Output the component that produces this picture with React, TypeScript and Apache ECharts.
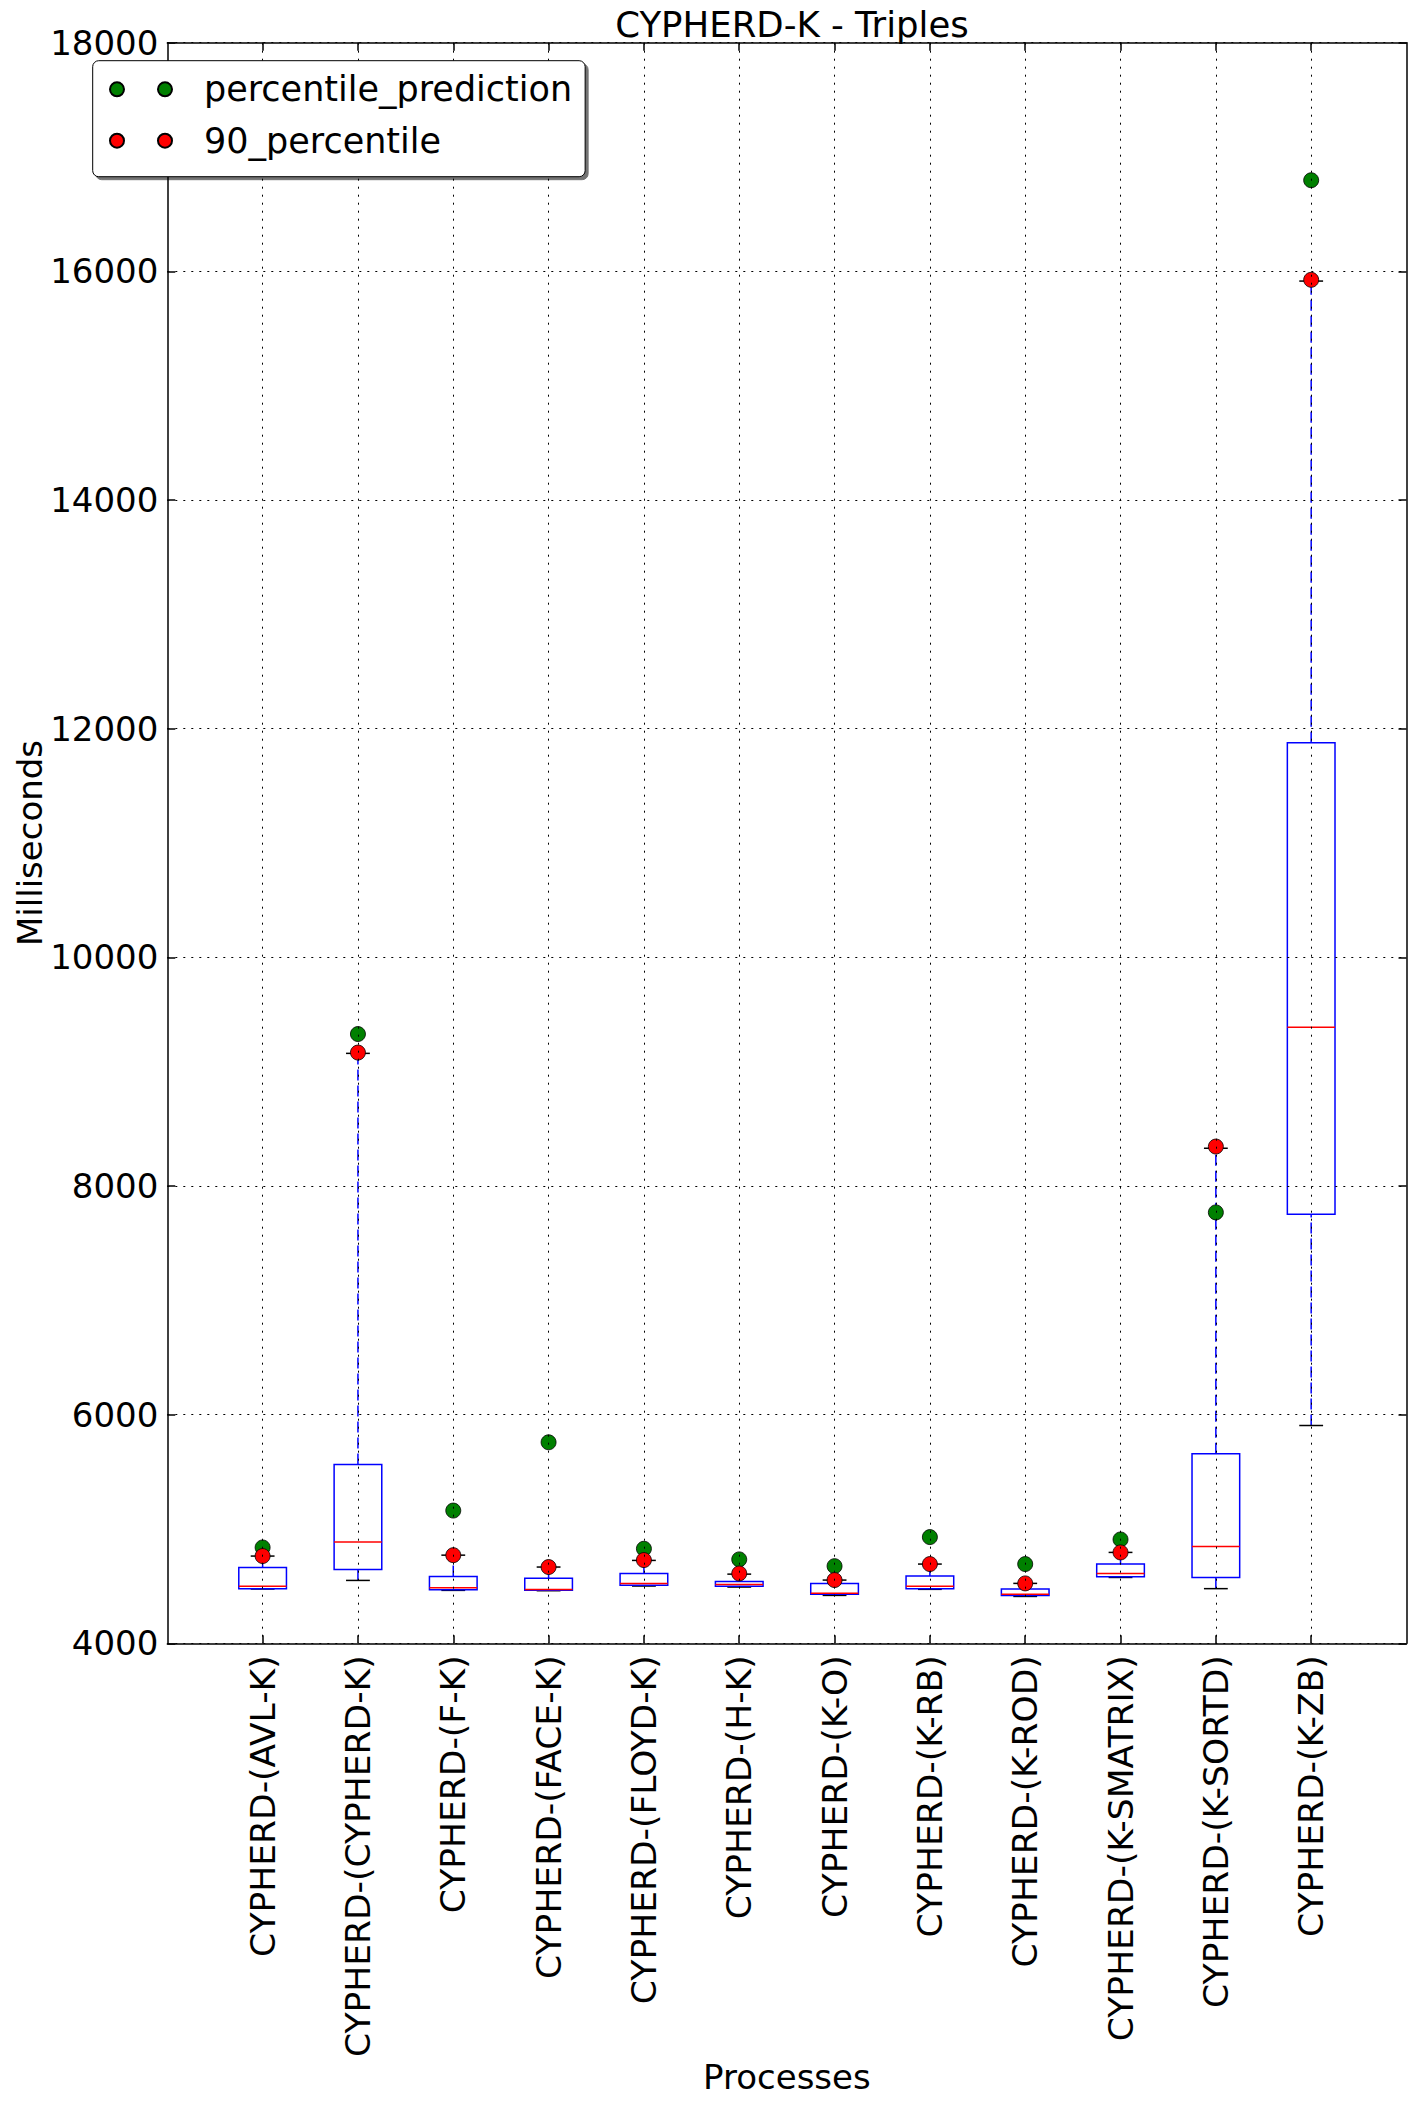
import React, { useEffect, useRef } from "react";
import * as echarts from "echarts";

const categories = [
  "CYPHERD-(AVL-K)",
  "CYPHERD-(CYPHERD-K)",
  "CYPHERD-(F-K)",
  "CYPHERD-(FACE-K)",
  "CYPHERD-(FLOYD-K)",
  "CYPHERD-(H-K)",
  "CYPHERD-(K-O)",
  "CYPHERD-(K-RB)",
  "CYPHERD-(K-ROD)",
  "CYPHERD-(K-SMATRIX)",
  "CYPHERD-(K-SORTD)",
  "CYPHERD-(K-ZB)",
];

const lowWhisker = [4475, 4550, 4463, 4460, 4501, 4492, 4419, 4472, 4410, 4576, 4478, 5905];
const q1 = [4478, 4645, 4469, 4463, 4507, 4498, 4428, 4477, 4419, 4582, 4575, 7752];
const median = [4498, 4885, 4486, 4470, 4524, 4515, 4437, 4498, 4428, 4611, 4847, 9388];
const q3 = [4664, 5565, 4585, 4568, 4611, 4541, 4524, 4588, 4474, 4693, 5658, 11876];
const highWhisker = [4763, 9160, 4771, 4667, 4725, 4605, 4553, 4693, 4524, 4795, 8330, 15915];

const percentilePrediction = [4838, 9329, 5161, 5758, 4827, 4734, 4675, 4929, 4693, 4908, 7769, 16797];
const percentile90 = [4763, 9167, 4771, 4667, 4728, 4611, 4553, 4693, 4524, 4795, 8345, 15926];

const yTickLabels = [4000, 6000, 8000, 10000, 12000, 14000, 16000, 18000];

const FONT = "DejaVu Sans";

export default function App() {
  const ref = useRef<HTMLDivElement>(null);

  useEffect(() => {
    document.body.style.margin = "0";
    const chart = echarts.init(ref.current!, null, { renderer: "svg" });

    const axisCats = ["", ...categories, ""];
    const inRange = (i: number) => i >= 1 && i <= categories.length;
    const yMin = yTickLabels[0];
    const yMax = yTickLabels[yTickLabels.length - 1];
    const yStep = yTickLabels[1] - yTickLabels[0];

    const boxData = categories.map((_, i) => [
      i + 1,
      lowWhisker[i],
      q1[i],
      median[i],
      q3[i],
      highWhisker[i],
    ]);
    const greenData = categories.map((_, i) => [i + 1, percentilePrediction[i]]);
    const redData = categories.map((_, i) => [i + 1, percentile90[i]]);

    const legendIcon =
      "path://M0,7a7,7 0 1,0 14,0a7,7 0 1,0 -14,0Z M48,7a7,7 0 1,0 14,0a7,7 0 1,0 -14,0Z";

    const gridLine = {
      show: true,
      lineStyle: { color: "#000", width: 1, type: [2, 6] as any },
    };

    const option: any = {
      animation: false,
      backgroundColor: "#fff",
      textStyle: { fontFamily: FONT },
      title: {
        text: "CYPHERD-K - Triples",
        left: 787,
        top: 1,
        textAlign: "center",
        textStyle: { fontSize: 35.5, fontWeight: "normal", color: "#000", fontFamily: FONT },
      },
      legend: {
        orient: "vertical",
        left: 92.7,
        top: 60.7,
        z: 10,
        data: [
          { name: "percentile_prediction", icon: legendIcon },
          { name: "90_percentile", icon: legendIcon },
        ],
        itemWidth: 62,
        itemHeight: 14,
        itemGap: 11.4,
        padding: [8.6, 13, 16, 16.3],
        backgroundColor: "#fff",
        borderColor: "#000",
        borderWidth: 1,
        borderRadius: 6,
        shadowColor: "rgba(0,0,0,0.55)",
        shadowOffsetX: 3,
        shadowOffsetY: 3,
        shadowBlur: 0,
        textStyle: {
          fontSize: 35,
          lineHeight: 40,
          color: "#000",
          fontFamily: FONT,
          padding: [0, 0, 0, 27],
        },
      },
      grid: {
        left: 167.3,
        top: 42.7,
        right: 9.5,
        bottom: 461.7,
        containLabel: false,
        outerBoundsMode: "none",
      },
      xAxis: [
        {
          type: "category",
          data: axisCats,
          boundaryGap: false,
          z: 5,
          name: "Processes",
          nameLocation: "middle",
          nameGap: 417,
          nameMoveOverlap: false,
          nameTextStyle: { fontSize: 34, color: "#000", fontFamily: FONT },
          axisLine: { show: true, lineStyle: { color: "#000", width: 1.5 } },
          axisTick: {
            show: true,
            inside: true,
            length: 8,
            interval: (i: number) => inRange(i),
            lineStyle: { color: "#000", width: 1.5 },
          },
          axisLabel: {
            interval: 0,
            rotate: 90,
            margin: 12,
            fontSize: 34.5,
            color: "#000",
            fontFamily: FONT,
          },
          splitLine: { ...gridLine, interval: (i: number) => inRange(i) },
        },
        {
          type: "category",
          data: axisCats,
          boundaryGap: false,
          position: "top",
          z: 5,
          axisLine: { show: true, lineStyle: { color: "#000", width: 1.5 } },
          axisTick: {
            show: true,
            inside: true,
            length: 8,
            interval: (i: number) => inRange(i),
            lineStyle: { color: "#000", width: 1.5 },
          },
          axisLabel: { show: false },
          splitLine: { show: false },
        },
      ],
      yAxis: [
        {
          type: "value",
          min: yMin,
          max: yMax,
          interval: yStep,
          z: 5,
          name: "Milliseconds",
          nameLocation: "middle",
          nameGap: 120,
          nameMoveOverlap: false,
          nameRotate: 90,
          nameTextStyle: { fontSize: 34, color: "#000", fontFamily: FONT },
          axisLine: { show: true, lineStyle: { color: "#000", width: 1.5 } },
          axisTick: { show: true, inside: true, length: 8, lineStyle: { color: "#000", width: 1.5 } },
          axisLabel: {
            margin: 9,
            fontSize: 34,
            color: "#000",
            fontFamily: FONT,
            formatter: (v: number) => String(v),
          },
          splitLine: gridLine,
        },
        {
          type: "value",
          min: yMin,
          max: yMax,
          interval: yStep,
          position: "right",
          z: 5,
          axisLine: { show: true, lineStyle: { color: "#000", width: 1.5 } },
          axisTick: { show: true, inside: true, length: 8, lineStyle: { color: "#000", width: 1.5 } },
          axisLabel: { show: false },
          splitLine: { show: false },
        },
      ],
      series: [
        {
          type: "custom",
          name: "boxes",
          xAxisIndex: 0,
          yAxisIndex: 0,
          data: boxData,
          encode: { x: 0, y: [1, 2, 3, 4, 5] },
          z: 2,
          renderItem: (params: any, api: any) => {
            const idx = api.value(0);
            const pLow = api.coord([idx, api.value(1)]);
            const pQ1 = api.coord([idx, api.value(2)]);
            const pMed = api.coord([idx, api.value(3)]);
            const pQ3 = api.coord([idx, api.value(4)]);
            const pHigh = api.coord([idx, api.value(5)]);
            const band = api.size([1, 0])[0];
            const hb = band * 0.25;
            const hc = band * 0.125;
            const x = pMed[0];
            const blue = "#0000ff";
            return {
              type: "group",
              children: [
                {
                  type: "line",
                  shape: { x1: x, y1: pLow[1], x2: x, y2: pQ1[1] },
                  style: { stroke: blue, lineWidth: 1.5, lineDash: [11, 5] },
                },
                {
                  type: "line",
                  shape: { x1: x, y1: pQ3[1], x2: x, y2: pHigh[1] },
                  style: { stroke: blue, lineWidth: 1.5, lineDash: [11, 5] },
                },
                {
                  type: "line",
                  shape: { x1: x - hc, y1: pLow[1], x2: x + hc, y2: pLow[1] },
                  style: { stroke: "#000", lineWidth: 1.5 },
                },
                {
                  type: "line",
                  shape: { x1: x - hc, y1: pHigh[1], x2: x + hc, y2: pHigh[1] },
                  style: { stroke: "#000", lineWidth: 1.5 },
                },
                {
                  type: "rect",
                  shape: { x: x - hb, y: pQ3[1], width: hb * 2, height: pQ1[1] - pQ3[1] },
                  style: { stroke: blue, fill: "none", lineWidth: 1.5 },
                },
                {
                  type: "line",
                  shape: { x1: x - hb, y1: pMed[1], x2: x + hb, y2: pMed[1] },
                  style: { stroke: "#ff0000", lineWidth: 1.5 },
                },
              ],
            };
          },
        },
        {
          type: "scatter",
          name: "percentile_prediction",
          xAxisIndex: 0,
          yAxisIndex: 0,
          data: greenData,
          symbol: "circle",
          symbolSize: 15,
          z: 3,
          itemStyle: { color: "#008000", borderColor: "#000", borderWidth: 0.8, opacity: 1 },
        },
        {
          type: "scatter",
          name: "90_percentile",
          xAxisIndex: 0,
          yAxisIndex: 0,
          data: redData,
          symbol: "circle",
          symbolSize: 15,
          z: 4,
          itemStyle: { color: "#ff0000", borderColor: "#000", borderWidth: 0.8, opacity: 1 },
        },
      ],
    };

    chart.setOption(option);
    return () => chart.dispose();
  }, []);

  return <div ref={ref} style={{ width: 1416, height: 2105 }} />;
}
